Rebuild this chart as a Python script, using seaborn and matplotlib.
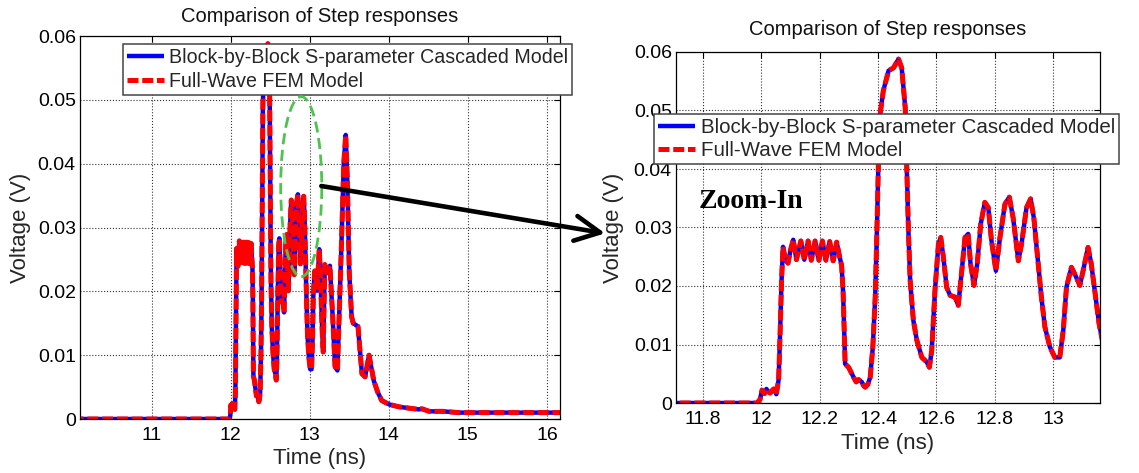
import matplotlib
matplotlib.use("Agg")
import matplotlib.pyplot as plt
from matplotlib.patches import Ellipse, ConnectionPatch
import seaborn as sns
import pandas as pd

# Step response samples: time in ns, voltage in V
time_ns = [
    10.00, 11.985, 11.995, 12.002, 12.010, 12.017, 12.024, 12.030, 12.036, 12.042,
    12.051, 12.059, 12.064, 12.069, 12.074, 12.082, 12.091, 12.100, 12.109, 12.120,
    12.135, 12.147, 12.160, 12.171, 12.184, 12.197, 12.209, 12.221, 12.234, 12.246,
    12.258, 12.268, 12.275, 12.280, 12.287, 12.299, 12.308, 12.316, 12.325, 12.333,
    12.344, 12.350, 12.356, 12.365, 12.373, 12.382, 12.390, 12.396, 12.401, 12.407,
    12.418, 12.436, 12.453, 12.470, 12.481, 12.493, 12.498, 12.504, 12.510, 12.521,
    12.533, 12.550, 12.567, 12.576, 12.584, 12.595, 12.607, 12.615, 12.624, 12.635,
    12.647, 12.664, 12.675, 12.687, 12.698, 12.709, 12.717, 12.729, 12.740, 12.752,
    12.766, 12.778, 12.789, 12.804, 12.818, 12.835, 12.850, 12.863, 12.881, 12.892,
    12.909, 12.923, 12.934, 12.949, 12.960, 12.972, 12.989, 13.006, 13.023, 13.035,
    13.046, 13.063, 13.074, 13.092, 13.103, 13.120, 13.131, 13.143, 13.158, 13.170,
    13.190, 13.220, 13.255, 13.290, 13.320, 13.350, 13.400, 13.430, 13.455, 13.475,
    13.500, 13.530, 13.550, 13.610, 13.660, 13.700, 13.750, 13.810, 13.860, 13.910,
    14.000, 14.130, 14.260, 14.380, 14.420, 14.510, 14.680, 14.890, 15.100, 15.600,
    16.200,
]
v_cascaded = [
    0.0000, 0.0000, 0.0006, 0.0022, 0.0016, 0.0024, 0.0019, 0.0017, 0.0021, 0.0024,
    0.0015, 0.0040, 0.0120, 0.0210, 0.0267, 0.0245, 0.0239, 0.0262, 0.0279, 0.0245,
    0.0277, 0.0245, 0.0277, 0.0244, 0.0277, 0.0244, 0.0277, 0.0244, 0.0276, 0.0243,
    0.0275, 0.0250, 0.0235, 0.0190, 0.0067, 0.0061, 0.0052, 0.0044, 0.0036, 0.0040,
    0.0036, 0.0030, 0.0027, 0.0032, 0.0044, 0.0096, 0.0180, 0.0295, 0.0408, 0.0494,
    0.0534, 0.0568, 0.0573, 0.0588, 0.0573, 0.0505, 0.0410, 0.0295, 0.0209, 0.0141,
    0.0107, 0.0078, 0.0070, 0.0061, 0.0090, 0.0192, 0.0272, 0.0283, 0.0249, 0.0198,
    0.0184, 0.0181, 0.0167, 0.0226, 0.0283, 0.0289, 0.0238, 0.0201, 0.0238, 0.0306,
    0.0343, 0.0334, 0.0277, 0.0226, 0.0283, 0.0340, 0.0352, 0.0317, 0.0243, 0.0272,
    0.0334, 0.0349, 0.0317, 0.0238, 0.0181, 0.0130, 0.0096, 0.0078, 0.0078, 0.0124,
    0.0198, 0.0232, 0.0221, 0.0201, 0.0226, 0.0266, 0.0238, 0.0192, 0.0135, 0.0105,
    0.0242, 0.0229, 0.0240, 0.0160, 0.0082, 0.0076, 0.0270, 0.0400, 0.0445, 0.0376,
    0.0229, 0.0160, 0.0150, 0.0145, 0.0071, 0.0066, 0.0100, 0.0060, 0.0042, 0.0029,
    0.0023, 0.0019, 0.0017, 0.0015, 0.0016, 0.0012, 0.0012, 0.0010, 0.0010, 0.0010,
    0.0010,
]
# The full-wave solution coincides with the cascaded model at plotting precision
v_fem = list(v_cascaded)

series_names = ["Block-by-Block S-parameter Cascaded Model", "Full-Wave FEM Model"]
title_text = "Comparison of Step responses"
x_label = "Time (ns)"
y_label = "Voltage (V)"

y_ticks = [0, 0.01, 0.02, 0.03, 0.04, 0.05, 0.06]
y_tick_labels = ["0", "0.01", "0.02", "0.03", "0.04", "0.05", "0.06"]
full_x_ticks = [11, 12, 13, 14, 15, 16]
full_x_tick_labels = ["11", "12", "13", "14", "15", "16"]
zoom_x_ticks = [11.8, 12.0, 12.2, 12.4, 12.6, 12.8, 13.0]
zoom_x_tick_labels = ["11.8", "12", "12.2", "12.4", "12.6", "12.8", "13"]

df = pd.DataFrame({"t": time_ns, "cascaded": v_cascaded, "fem": v_fem})

sns.set_style("white")
plt.rcParams["font.family"] = ["Liberation Sans", "DejaVu Sans"]

fig = plt.figure(figsize=(11.39, 4.73), dpi=100, facecolor="white")
ax1 = fig.add_axes([80 / 1139, 54 / 473, 480 / 1139, 383 / 473])
ax2 = fig.add_axes([676 / 1139, 70 / 473, 424 / 1139, 351 / 473])

blue_lw, red_lw = 3.2, 3.6


def draw_panel(ax, xlim, xticks, xticklabels, title_pad):
    sns.lineplot(data=df, x="t", y="cascaded", ax=ax, color="#0000ff",
                 linewidth=blue_lw, sort=False, estimator=None, legend=False)
    sns.lineplot(data=df, x="t", y="fem", ax=ax, color="#ff0000",
                 linewidth=red_lw, sort=False, estimator=None, legend=False)
    blue_line, red_line = ax.lines[-2], ax.lines[-1]
    red_line.set_dashes((2.2, 0.75))
    red_line.set_dash_capstyle("butt")
    blue_line.set_solid_capstyle("butt")
    blue_line.set_label(series_names[0])
    red_line.set_label(series_names[1])
    ax.set_xlim(*xlim)
    ax.set_ylim(0, 0.06)
    ax.set_xticks(xticks)
    ax.set_xticklabels(xticklabels)
    ax.set_yticks(y_ticks)
    ax.set_yticklabels(y_tick_labels)
    ax.grid(True, color="#333333", linestyle=":", linewidth=0.8)
    ax.tick_params(direction="in", length=4, width=0.8, labelsize=14,
                   top=True, right=True, colors="black", pad=3)
    ax.tick_params(axis="x", pad=6)
    for sp in ax.spines.values():
        sp.set_visible(True)
        sp.set_color("black")
        sp.set_linewidth(0.9)
    ax.set_title(title_text, fontsize=14.5, pad=title_pad, color="#111111")
    ax.set_xlabel(x_label, fontsize=16, va="center")
    ax.set_ylabel(y_label, fontsize=16, va="center")
    return blue_line, red_line


h1 = draw_panel(ax1, (10.093, 16.166), full_x_ticks, full_x_tick_labels, 10.3)
h2 = draw_panel(ax2, (11.707, 13.161), zoom_x_ticks, zoom_x_tick_labels, 12.2)

ax1.xaxis.set_label_coords(0.5, (419 - 458) / 383)
ax1.yaxis.set_label_coords((21 - 80) / 480, 0.5)
ax2.xaxis.set_label_coords(0.5, (403 - 443) / 351)
ax2.yaxis.set_label_coords((613 - 676) / 424, 0.5)

# Legends drawn at figure level so they sit above tick labels and traces
leg_common = dict(loc="upper left", borderaxespad=0, fancybox=False,
                  framealpha=1, edgecolor="#444444", facecolor="white")
leg1 = fig.legend(handles=list(h1), labels=series_names,
                  bbox_to_anchor=(123 / 1139, 1 - 44 / 473),
                  fontsize=14.1, handlelength=1.9, handletextpad=0.25,
                  labelspacing=0.25, borderpad=0.2, **leg_common)
leg2 = fig.legend(handles=list(h2), labels=series_names,
                  bbox_to_anchor=(654 / 1139, 1 - 114 / 473),
                  fontsize=14.8, handlelength=1.83, handletextpad=0.29,
                  labelspacing=0.22, borderpad=0.18, **leg_common)
for leg in (leg1, leg2):
    leg.get_frame().set_linewidth(1.1)

# Highlight of the region shown enlarged on the right
ellipse = Ellipse((12.892, 0.0364), width=0.52, height=0.0282,
                  transform=ax1.transData, fill=False, edgecolor="#4fc34f",
                  linewidth=2.0, linestyle=(0, (4, 2)), zorder=6)
fig.add_artist(ellipse)

arrow = ConnectionPatch(xyA=(13.146, 0.0365), coordsA=ax1.transData,
                        xyB=(11.464, 0.0290), coordsB=ax2.transData,
                        arrowstyle="->", color="black", linewidth=3.3,
                        zorder=6)
arrow.set_arrowstyle("->", head_length=0.9, head_width=0.45)
arrow.set_mutation_scale(20)
fig.add_artist(arrow)

ax2.text(11.786, 0.0344, "Zoom-In", ha="left", va="center",
         family=["Liberation Serif", "DejaVu Serif"], weight="bold",
         fontsize=20, color="black", zorder=7)

fig.savefig("out.png", dpi=100, facecolor="white")
